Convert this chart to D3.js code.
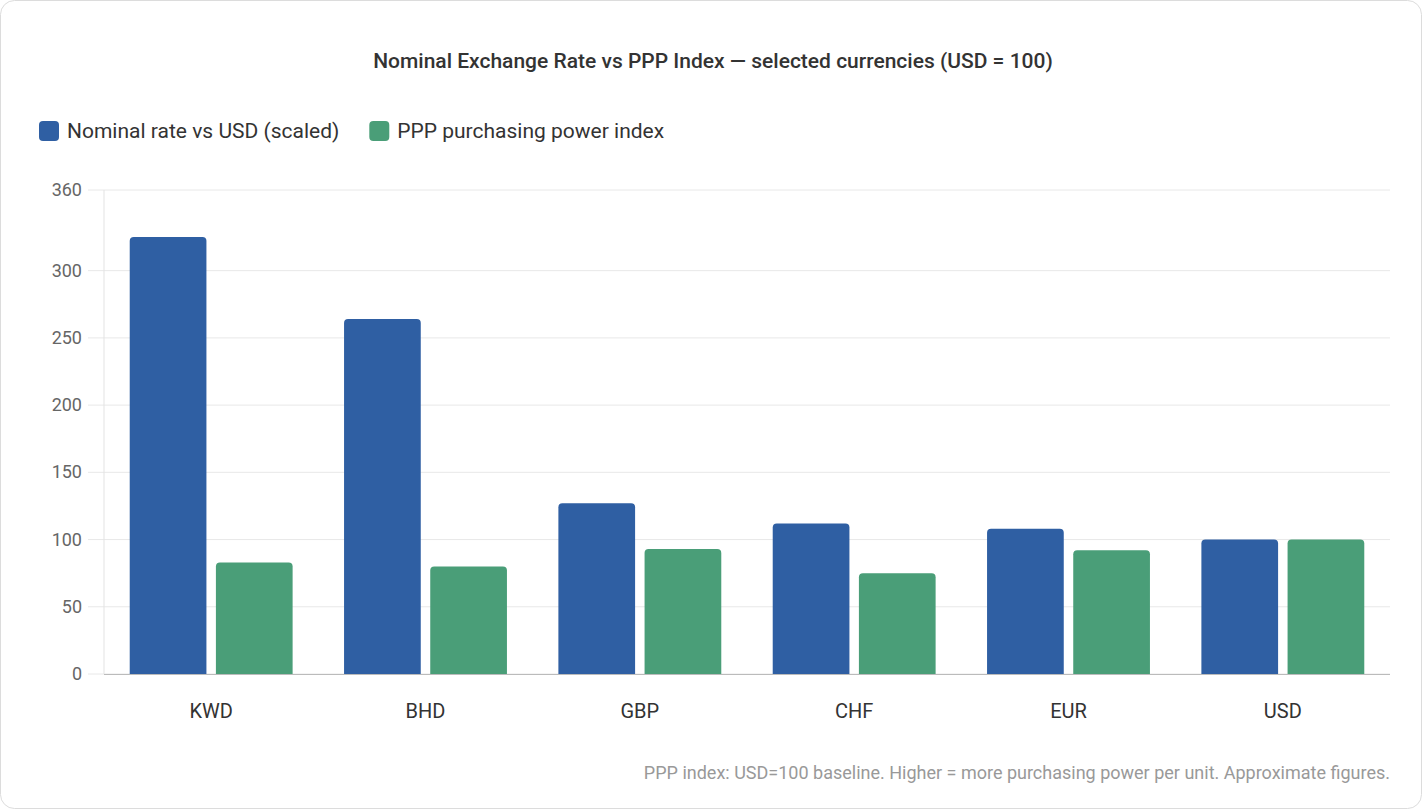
<!DOCTYPE html>
<html><head><meta charset="utf-8">
<script src="https://cdn.jsdelivr.net/npm/d3@7"></script>
<style>
html,body{margin:0;padding:0;background:#fff;}
body{font-family:"Helvetica Neue",Roboto,"Liberation Sans",Arial,sans-serif;}
</style></head>
<body>
<svg id="c" width="1422" height="809"></svg>
<script>
const categories = ["KWD","BHD","GBP","CHF","EUR","USD"];
const nominal = [325, 264, 127, 112, 108, 100];
const ppp = [83, 80, 93, 75, 92, 100];
const seriesNames = ["Nominal rate vs USD (scaled)", "PPP purchasing power index"];
const yTicks = [0,50,100,150,200,250,300,360];
const colors = ["#2f5fa3", "#4a9e78"];

const svg = d3.select("#c");
svg.append("rect").attr("x",0.5).attr("y",0.5).attr("width",1421).attr("height",808)
  .attr("rx",14).attr("fill","#fff").attr("stroke","#dcdcdc");

svg.append("text").attr("x",713).attr("y",68).attr("text-anchor","middle")
  .attr("font-size",21).attr("font-weight",500).attr("fill","#333")
  .text("Nominal Exchange Rate vs PPP Index — selected currencies (USD = 100)");

// legend
const leg = svg.append("g");
let lx = 39;
seriesNames.forEach((n,i)=>{
  leg.append("rect").attr("x",lx).attr("y",121).attr("width",20).attr("height",20).attr("rx",4).attr("fill",colors[i]);
  const t = leg.append("text").attr("x",lx+28).attr("y",138).attr("font-size",21).attr("fill","#333").text(n);
  lx += 28 + t.node().getComputedTextLength() + 30;
});

const x0 = d3.scaleBand().domain(categories).range([104,1390]).paddingInner(0.24).paddingOuter(0.12);
const x1 = d3.scaleBand().domain([0,1]).range([0,x0.bandwidth()]).paddingInner(0.11);
const y = d3.scaleLinear().domain([0,360]).range([674,190]);

const g = svg.append("g");
g.selectAll(".grid").data(yTicks).join("line")
  .attr("x1",88).attr("x2",1390).attr("y1",d=>y(d)).attr("y2",d=>y(d))
  .attr("stroke","#e8e8e8");
g.append("line").attr("x1",104).attr("x2",104).attr("y1",190).attr("y2",674).attr("stroke","#e3e3e3");
g.selectAll(".yt").data(yTicks).join("text")
  .attr("x",82).attr("y",d=>y(d)+6).attr("text-anchor","end")
  .attr("font-size",18).attr("fill","#666").text(d=>d);

const data = categories.map((c,i)=>({c, v:[nominal[i], ppp[i]]}));
const grp = g.selectAll(".grp").data(data).join("g").attr("transform",d=>`translate(${x0(d.c)},0)`);
grp.selectAll("path").data(d=>d.v.map((v,i)=>({v,i}))).join("path")
  .attr("fill",d=>colors[d.i])
  .attr("d",d=>{
    const bx=x1(d.i), w=x1.bandwidth(), top=y(d.v), bot=y(0), r=4;
    return `M${bx},${bot}V${top+r}Q${bx},${top} ${bx+r},${top}H${bx+w-r}Q${bx+w},${top} ${bx+w},${top+r}V${bot}Z`;
  });

g.append("line").attr("x1",104).attr("x2",1390).attr("y1",674.5).attr("y2",674.5).attr("stroke","#bbb");
g.selectAll(".xt").data(categories).join("text")
  .attr("x",d=>x0(d)+x0.bandwidth()/2).attr("y",718).attr("text-anchor","middle")
  .attr("font-size",20).attr("fill","#333").text(d=>d);

svg.append("text").attr("x",1390).attr("y",779).attr("text-anchor","end")
  .attr("font-size",18).attr("fill","#999")
  .text("PPP index: USD=100 baseline. Higher = more purchasing power per unit. Approximate figures.");
</script>
</body></html>
